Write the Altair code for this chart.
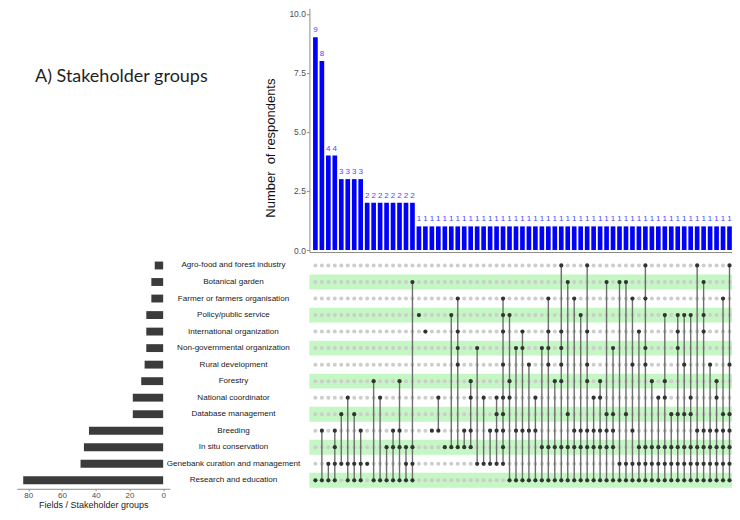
import altair as alt
import pandas as pd

title_text = "A) Stakeholder groups"
y_title = "Number\u00a0 of respondents"
x_title_left = "Fields / Stakeholder groups"

sets = [
    "Agro-food and forest industry",
    "Botanical garden",
    "Farmer or farmers organisation",
    "Policy/public service",
    "International organization",
    "Non-governmental organization",
    "Rural development",
    "Forestry",
    "National coordinator",
    "Database management",
    "Breeding",
    "In situ conservation",
    "Genebank curation and management",
    "Research and education",
]

# number of respondents per intersection (column order as in the chart)
counts = [9, 8, 4, 4, 3, 3, 3, 3, 2, 2, 2, 2, 2, 2, 2, 2,
          1, 1, 1, 1, 1, 1, 1, 1, 1, 1, 1, 1, 1, 1, 1, 1, 1,
          1, 1, 1, 1, 1, 1, 1, 1, 1, 1, 1, 1, 1, 1, 1, 1, 1,
          1, 1, 1, 1, 1, 1, 1, 1, 1, 1, 1, 1, 1, 1, 1]

# member rows (1 = top set, 14 = bottom set) of each intersection column
members = [
    [14], [11, 14], [13, 14], [11, 12, 13, 14], [10, 13], [9, 13, 14], [10, 13, 14], [11, 13, 14],
    [13], [8, 14], [9, 14], [12, 14], [11, 12, 14], [8, 11, 12, 14], [12, 13, 14], [2, 12, 13, 14],
    [4], [5], [11], [9, 11], [12], [4, 12], [3, 5, 6, 7, 12], [11, 12], [8, 9, 11, 12], [6, 13],
    [9, 13], [11, 13],
    [9, 10, 11, 13], [3, 4, 5, 7, 9, 10, 11, 12, 13], [4, 8, 9, 14], [6, 11, 14], [5, 6, 11, 14],
    [7, 11, 14], [9, 11, 14],
    [6, 12, 14], [3, 5, 6, 7, 12, 14], [8, 12, 14], [1, 5, 6, 7, 8, 12, 14], [2, 10, 12, 14],
    [3, 11, 12, 14], [4, 11, 12, 14],
    [1, 5, 7, 8, 11, 12, 14], [9, 11, 12, 14], [8, 9, 11, 12, 14], [2, 10, 11, 12, 14],
    [6, 10, 11, 12, 14], [2, 13, 14],
    [2, 10, 13, 14], [3, 7, 11, 13, 14], [5, 12, 13, 14], [1, 3, 6, 7, 12, 13, 14], [8, 12, 13, 14],
    [9, 12, 13, 14],
    [4, 8, 9, 12, 13, 14], [10, 12, 13, 14], [4, 5, 6, 10, 12, 13, 14], [4, 7, 10, 12, 13, 14],
    [4, 9, 10, 12, 13, 14],
    [1, 11, 12, 13, 14], [2, 4, 5, 11, 12, 13, 14], [7, 11, 12, 13, 14], [8, 9, 11, 12, 13, 14],
    [3, 10, 11, 12, 13, 14],
    [1, 7, 10, 11, 12, 13, 14],
]

n_cols = len(counts)
n_rows = len(sets)

bars_df = pd.DataFrame({"col": list(range(1, n_cols + 1)), "count": counts})

cells_df = pd.DataFrame([
    {"col": c + 1, "row": r + 1, "on": (r + 1) in members[c]}
    for c in range(n_cols) for r in range(n_rows)
])

lines_df = pd.DataFrame([
    {"col": c + 1, "lo": min(m), "hi": max(m)}
    for c, m in enumerate(members) if len(m) > 1
])

sizes = [sum(counts[c] for c in range(n_cols) if (r + 1) in members[c]) for r in range(n_rows)]
sets_df = pd.DataFrame({
    "row": list(range(1, n_rows + 1)),
    "name": sets,
    "size": sizes,
    "shade": [(r + 1) % 2 == 0 for r in range(n_rows)],
})

W_L, W_R = 153.3, 423.0
H_T, H_B = 244.0, 237.0

xcol = alt.Scale(domain=[0.0736, 65.386], nice=False, zero=False)
yrow = alt.Scale(domain=[0.1838, 14.5139], reverse=True, nice=False, zero=False)
ycount = alt.Scale(domain=[-0.0846, 10.2326], nice=False, zero=False)

GRAY_AX = "#8c8c8c"

x_top_axis = alt.Axis(labels=False, ticks=False, title=None, grid=False,
                      domainColor=GRAY_AX, domainWidth=1)
y_top_axis = alt.Axis(values=[0, 2.5, 5, 7.5, 10], format=".1f", grid=False,
                      tickSize=3, tickColor=GRAY_AX, domainColor=GRAY_AX,
                      labelColor="#4d4d4d", labelFontSize=8.5, labelPadding=1,
                      labelFlush=False,
                      title=y_title, titleFontSize=13, titleFontWeight="normal",
                      titleColor="#111111", titleX=-39, titleY=139.5,
                      titleAlign="center", titleBaseline="middle")

top_bars = alt.Chart(bars_df).transform_calculate(
    x0="datum.col - 0.36", x1="datum.col + 0.36"
).mark_bar(color="#0000ff").encode(
    x=alt.X("x0:Q", scale=xcol, axis=x_top_axis),
    x2="x1:Q",
    y=alt.Y("count:Q", scale=ycount, axis=y_top_axis),
    y2=alt.datum(0),
)

top_labels = alt.Chart(bars_df).mark_text(
    dy=-5, baseline="alphabetic", align="center", fontSize=8, color="#4a4aff"
).encode(
    x=alt.X("col:Q", scale=xcol, axis=x_top_axis),
    y=alt.Y("count:Q", scale=ycount, axis=y_top_axis),
    text="count:Q",
)

top = alt.layer(top_bars, top_labels).properties(width=W_R, height=H_T)

title_cell = alt.Chart(pd.DataFrame({"t": [title_text]})).mark_text(
    align="left", baseline="alphabetic", font="Lato", fontSize=18, color="#1f1f1f"
).encode(
    x=alt.value(18.3), y=alt.value(73.7), text="t:N"
).properties(width=W_L, height=H_T)

left = alt.Chart(sets_df).transform_calculate(
    lo="datum.row - 0.238", hi="datum.row + 0.238"
).mark_bar(color="#3b3b3b").encode(
    x=alt.X("size:Q",
            scale=alt.Scale(domain=[-3.97, 86.87], reverse=True, nice=False, zero=False),
            axis=alt.Axis(values=[0, 20, 40, 60, 80], grid=False, tickSize=2,
                          tickColor=GRAY_AX, domainColor=GRAY_AX, labelColor="#4d4d4d",
                          labelFontSize=8, labelPadding=0.5, labelFlush=False,
                          title=x_title_left, titleFontSize=9, titleFontWeight="normal",
                          titleColor="#1a1a1a", titlePadding=1.5)),
    x2=alt.datum(0),
    y=alt.Y("lo:Q", scale=yrow, axis=None),
    y2="hi:Q",
).properties(width=W_L, height=H_B)

bands = alt.Chart(sets_df).transform_filter("datum.shade").transform_calculate(
    lo="datum.row - 0.45", hi="datum.row + 0.45"
).mark_rect(color="#c4f7c4").encode(
    x=alt.value(0), x2=alt.value(W_R),
    y=alt.Y("lo:Q", scale=yrow, axis=None), y2="hi:Q",
)

light = alt.Chart(cells_df).transform_filter("!datum.on").mark_circle(
    color="#cdcdcd", size=16, opacity=1
).encode(
    x=alt.X("col:Q", scale=xcol, axis=None),
    y=alt.Y("row:Q", scale=yrow, axis=None),
)

links = alt.Chart(lines_df).mark_rule(color="#6e6e6e", strokeWidth=1.4).encode(
    x=alt.X("col:Q", scale=xcol, axis=None),
    y=alt.Y("lo:Q", scale=yrow, axis=None),
    y2="hi:Q",
)

dark = alt.Chart(cells_df).transform_filter("datum.on").mark_circle(
    color="#333333", size=18, opacity=1
).encode(
    x=alt.X("col:Q", scale=xcol, axis=None),
    y=alt.Y("row:Q", scale=yrow, axis=None),
)

names = alt.Chart(sets_df).mark_text(
    align="center", baseline="middle", fontSize=8.1, color="#1a1a1a"
).encode(
    x=alt.value(-76),
    y=alt.Y("row:Q", scale=yrow, axis=None),
    text="name:N",
)

matrix = alt.layer(bands, light, links, dark, names).properties(width=W_R, height=H_B)

chart = alt.concat(
    title_cell, top, left, matrix,
    columns=2, spacing={"row": 0, "column": 139}, align="each", bounds="flush",
).properties(
    padding={"left": 8.7, "top": 0, "right": 0, "bottom": 0}
).configure(
    font="Liberation Sans"
).configure_view(
    stroke=None
).configure_axis(
    grid=False
)

chart.save("out.html", embed_options={"renderer": "svg", "actions": False})
